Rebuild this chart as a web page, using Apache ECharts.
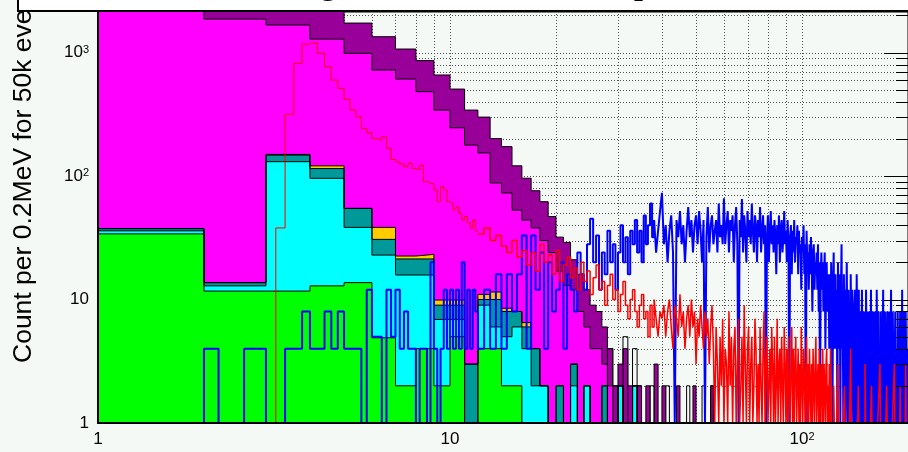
<!DOCTYPE html>
<html>
<head>
<meta charset="utf-8">
<script src="https://cdn.jsdelivr.net/npm/echarts@6/dist/echarts.min.js"></script>
<style>
  html, body { margin: 0; padding: 0; background: #f5f9f5; }
  #c { width: 908px; height: 452px; }
</style>
</head>
<body>
<div id="c"></div>
<script>
// ---- Stacked background components, 1 MeV bins starting at 1 MeV ----
const stackStart = 1;
const stackWidth = 1;
const green   = [34, 11.7, 11.7, 12.9, 13.7, 4.9, 2, 4, 2, 5, 0, 4, 4, 2, 2, 0];
const cyan    = [2, 1.2, 119, 83, 24.7, 18, 13.8, 11.8, 4.9, 1.9, 0, 5, 2, 3, 4, 4, 2, 2, 0, 0, 0, 2, 0, 2, 0, 0, 0, 0, 0, 2, 0, 0, 2];
const teal    = [1.5, 0.8, 17, 19, 16.3, 7.8, 5.5, 5.5, 2.1, 2.1, 3, 1, 4, 3, 2, 2, 2, 0, 0, 2, 0, 1, 0, 0, 0, 0, 2];
const gold    = [0, 0, 2, 6, 0, 7.7, 1.2, 1.9, 0.9, 0.9, 0, 1, 1.5, 0.5, 0, 0.5];
const magenta = [5000, 1853, 1521, 1165, 931, 684, 588, 459, 332, 236, 175, 143, 76.5, 64.5, 45, 37.5, 34, 28, 24, 15, 13, 9, 8, 4, 4, 4, 1, 2];
const purple  = [3000, 1633, 1229, 1014, 747, 621, 457, 379, 316, 260, 164, 146, 113, 100, 68, 52, 38, 32, 23, 15, 16, 9, 8, 6, 5, 4, 3, 2, 2, 1,
                 4, 2, 0, 2, 0, 2, 0, 3, 0, 2, 0, 0, 0, 2, 0, 0, 0, 0, 2, 0, 0, 0, 0, 0, 2, 0];

// ---- Red spectrum: 0.2 MeV bins near the peak, 0.5 MeV bins above 12 MeV ----
const redFineStart = 3.2, redFineWidth = 0.2;
const redFine = [38, 316, 818, 1172, 1200, 986, 767, 598, 513, 418,
                 342, 302, 243, 224, 202, 195, 208, 168, 136, 130,
                 125, 119, 127, 115, 112, 122, 90, 88, 86, 77,
                 62, 82, 77, 62, 60, 53, 56, 50, 44, 47,
                 42, 38, 44, 36];
const redMidStart = 12, redMidWidth = 0.5;
const redMid = [34, 38, 30, 33, 27, 24, 30, 22, 25, 19,
                24, 17, 28, 20, 23, 16, 25, 14, 19, 22,
                15, 18, 12, 20, 14, 17, 11, 15, 19, 12,
                14, 9, 13, 16, 10, 12, 8, 11, 14, 9,
                7, 10, 12, 8, 6, 9, 11, 7, 8, 5,
                9, 6, 10, 7, 5, 8,
                7, 9, 5, 8, 10, 6, 4, 9, 7, 5,
                11, 6, 8, 4, 7, 9, 5, 10, 6, 8,
                3, 7, 5, 9, 6, 4, 8, 5, 7, 3,
                6, 9];
const redHighStart = 56, redHighWidth = 0.5;
const redHigh = [4, 0, 6, 3, 0, 5, 2, 7, 0, 4,
                 3, 0, 8, 2, 5, 0, 4, 6, 0, 3,
                 7, 0, 2, 5, 0, 9, 3, 0, 4, 6,
                 0, 3, 5, 0, 2, 7, 4, 0, 3, 0,
                 6, 2, 0, 4, 8, 0, 3, 5, 0, 2,
                 4, 0, 6, 3, 0, 5, 0, 2, 7, 0,
                 3, 4, 0, 5, 2, 0, 6, 3, 0, 4,
                 0, 5, 2, 0, 3, 6, 0, 4, 0, 3,
                 5, 0, 2, 4, 0, 3, 0, 6, 2, 0,
                 4, 3, 0, 2, 5, 0, 3, 0, 4, 2,
                 0, 3, 0, 4, 2, 0, 3, 5, 0, 2,
                 3, 0, 4, 0, 2, 3, 0, 4, 0, 3,
                 2, 0, 3, 4, 0, 2, 0, 3, 0, 4,
                 0, 1, 0, 0, 2, 0, 0, 1, 0, 0,
                 0, 3, 0, 0, 1, 0, 0, 0, 0, 1,
                 0, 0, 2, 0, 0, 0, 1, 0, 0, 0,
                 0, 0, 0, 4, 0, 0, 1, 0, 0, 0,
                 0, 0, 0, 0, 1, 0, 0, 2, 0, 0,
                 0, 0, 0, 0, 0, 1, 0, 0, 0, 0,
                 3, 0, 0, 0, 0, 0, 1, 0, 0, 0,
                 0, 0, 0, 2, 0, 0, 0, 0, 0, 1,
                 0, 0, 0, 0, 0, 0, 0, 1, 0, 0,
                 0, 3, 0, 0, 0, 0, 0, 0, 1, 0,
                 0, 0, 0, 0, 0, 0, 2, 0, 0, 0,
                 0, 0, 1, 0, 0, 0, 0, 0, 0, 0,
                 0, 0, 0, 0, 3, 0, 0, 0, 0, 1,
                 0, 0, 0, 0, 0, 0, 0, 0, 2, 0,
                 0, 0, 0, 1, 0, 0, 0, 0, 0, 0,
                 0, 0, 3, 0, 0, 0, 0, 0];

// ---- Blue spectrum: 0.2 MeV bins below 12 MeV, 0.5 MeV bins above ----
const blueFineStart = 1, blueFineWidth = 0.2;
const blueFine = [0, 0, 0, 0, 0, 4, 0, 0, 4, 4,
                  0, 0, 4, 4, 8, 4, 4, 8, 4, 8,
                  4, 4, 4, 0, 12, 5, 5, 0, 12, 5,
                  12, 4, 8, 4, 4, 0, 4, 4, 0, 20,
                  4, 0, 4, 12, 4, 12, 4, 12, 4, 20,
                  4, 12, 4, 12, 8];
const blueHighStart = 12, blueHighWidth = 0.5;
const blueHigh = [4, 12, 4, 16, 4, 16, 8, 16, 33, 4,
                  33, 12, 24, 4, 20, 8, 12, 20, 4, 16,
                  12, 8, 24, 16, 12, 28, 45, 20, 33, 12,
                  24, 16, 36, 20, 28, 12, 24, 40, 20, 32,
                  16, 36, 28, 44, 24, 36, 20, 48, 28, 40,
                  60, 32, 44, 24, 36, 52, 73, 28, 40, 20,
                  36, 48, 24, 0, 44, 32, 52, 28, 40, 20,
                  36, 56, 32, 44, 24, 40, 48, 28, 52, 36,
                  20, 44, 0, 32, 56, 24, 40, 48, 28, 36,
                  44, 24, 60, 32, 40, 28,
                  66, 28, 40, 52, 24, 44, 36, 48, 20, 40,
                  56, 28, 0, 44, 32, 65, 24, 48, 36, 20,
                  52, 32, 44, 28, 60, 36, 24, 48, 40, 20,
                  44, 32, 56, 24, 36, 48, 28, 40, 0, 32,
                  48, 20, 36, 52, 28, 40, 24, 44, 32, 16,
                  40, 28, 48, 20, 36, 44, 24, 32, 52, 28,
                  36, 20, 44, 28, 0, 32, 40, 16, 36, 24,
                  44, 20, 32, 28, 40, 16, 36, 24, 28, 12,
                  32, 24, 40, 16, 28, 0, 36, 20, 24, 12,
                  28, 16, 32, 20, 8, 24, 28, 12, 20, 16,
                  24, 12, 28, 8, 20, 0, 16, 24, 12, 20,
                  8, 16, 24, 4, 12, 20, 8, 16, 12, 4,
                  16, 4, 20, 8, 0, 12, 24, 4, 8, 16,
                  4, 12, 0, 20, 8, 4, 16, 0, 12, 28,
                  4, 8, 0, 16, 4, 12, 0, 8, 20, 4,
                  0, 12, 4, 8, 0, 16, 4, 0, 12, 8,
                  4, 0, 8, 12, 0, 4, 16, 4, 0, 8,
                  12, 0, 4, 8, 0, 4, 12, 0, 8, 4,
                  0, 8, 4, 0, 12, 4, 0, 8, 4, 0,
                  4, 8, 0, 4, 12, 0, 4, 0, 8, 4,
                  0, 4, 8, 0, 4, 0, 12, 4, 0, 4,
                  8, 0, 4, 4, 0, 8, 0, 4, 0, 4,
                  12, 0, 4, 0, 8, 4, 0, 4, 0, 8,
                  4, 0, 4, 8, 0, 4, 0, 4, 12, 0,
                  4, 0, 8, 4, 0, 4, 0, 4, 8, 0,
                  4, 0, 4, 0, 8, 4, 0, 4, 0, 4,
                  8, 0, 4, 0, 4, 12, 0, 4, 0, 8,
                  4, 0, 4, 0, 8, 4, 0, 4, 0, 4];

// ---- Black outline histogram at high energy, 1 MeV bins ----
const blackStart = 27, blackWidth = 1;
const black = [0, 4, 2, 0, 5, 0, 4, 2, 0, 0, 2, 0, 0, 0, 2, 0, 0, 0, 0, 0, 2, 0, 0, 0, 0, 2, 0, 0, 2, 0];

// ---- Axes ----
const X_MIN = 1, X_MAX = 200, Y_MIN = 1, Y_MAX = 2130;
const xTickVals = [1, 10, 100];
const xTickText = ['1', '10', '10{s|2}'];
const yTickVals = [1, 10, 100, 1000];
const yTickText = ['1', '10', '10{s|2}', '10{s|3}'];
const xGridVals = [2, 3, 4, 5, 6, 7, 8, 9, 10, 20, 30, 40, 50, 60, 70, 80, 90, 100, 200];
const yGridVals = [2, 3, 4, 5, 6, 7, 8, 9, 10, 20, 30, 40, 50, 60, 70, 80, 90,
                   100, 200, 300, 400, 500, 600, 700, 800, 900, 1000, 2000];
const yMajorVals = [10, 100, 1000];

const COLORS = {
  green: '#00ff00', cyan: '#00ffff', teal: '#009999', gold: '#ffcc00',
  magenta: '#ff00ff', purple: '#990099', red: '#ff0000', blue: '#0000ff'
};

// bin list [lo, hi, value] from one or more (start, width, values) segments
function makeBins(segments) {
  const out = [];
  segments.forEach(([s, w, vals]) => {
    vals.forEach((v, i) => out.push([s + i * w, s + (i + 1) * w, v]));
  });
  return out;
}
// histogram outline; empty bins sit on the bottom of the frame
function stepLine(bins, dropStart = true, dropEnd = true) {
  const pts = dropStart ? [[bins[0][0], Y_MIN]] : [];
  bins.forEach(([lo, hi, v]) => {
    const y = Math.max(v, Y_MIN);
    pts.push([lo, y], [hi, y]);
  });
  if (dropEnd) pts.push([bins[bins.length - 1][1], Y_MIN]);
  return pts;
}

// cumulative sums for the stack (bottom layer first)
const layers = [green, cyan, teal, gold, magenta, purple];
const layerColors = [COLORS.green, COLORS.cyan, COLORS.teal, COLORS.gold, COLORS.magenta, COLORS.purple];
const nStack = Math.max(...layers.map(a => a.length));
const cumulative = [];
let running = new Array(nStack).fill(0);
layers.forEach(arr => {
  running = running.map((r, i) => r + (arr[i] || 0));
  cumulative.push(running.slice());
});

const base = {
  type: 'line', symbol: 'none', showSymbol: false, silent: true,
  animation: false, clip: true, smooth: false
};

const series = [];

// dotted grid
series.push({
  type: 'custom', silent: true, z: 1, clip: true, animation: false,
  data: xGridVals.map(v => [v, Y_MIN]),
  renderItem: (p, api) => {
    const v = api.value(0);
    const a = api.coord([v, Y_MIN]), b = api.coord([v, Y_MAX]);
    const x = Math.round(a[0]) + 0.5;
    return { type: 'line', shape: { x1: x, y1: a[1], x2: x, y2: b[1] },
      style: { stroke: '#555', lineWidth: 1, lineDash: [1, 2] } };
  }
});
series.push({
  type: 'custom', silent: true, z: 1, clip: true, animation: false,
  data: yGridVals.map(v => [X_MIN, v]),
  renderItem: (p, api) => {
    const v = api.value(1);
    const a = api.coord([X_MIN, v]), b = api.coord([X_MAX, v]);
    const y = Math.round(a[1]) + 0.5;
    return { type: 'line', shape: { x1: a[0], y1: y, x2: b[0], y2: y },
      style: { stroke: '#555', lineWidth: 1, lineDash: [1, 2] } };
  }
});

// stack: total first, bottom layer last
for (let k = layers.length - 1; k >= 0; k--) {
  const bins = cumulative[k].map((v, i) => [stackStart + i * stackWidth, stackStart + (i + 1) * stackWidth, v]);
  series.push(Object.assign({}, base, {
    z: 2,
    data: stepLine(bins),
    lineStyle: { color: '#000', width: 1 },
    areaStyle: { color: layerColors[k], opacity: 1, origin: 'start' }
  }));
}

series.push(Object.assign({}, base, {
  z: 3,
  data: stepLine(makeBins([[blackStart, blackWidth, black]])),
  lineStyle: { color: '#000', width: 1 }
}));
series.push(Object.assign({}, base, {
  z: 3,
  data: stepLine(makeBins([[blueFineStart, blueFineWidth, blueFine],
                           [blueHighStart, blueHighWidth, blueHigh]])),
  lineStyle: { color: COLORS.blue, width: 2 }
}));
// red: the peak region with a thin pen, the busy tail with a heavier one
series.push(Object.assign({}, base, {
  z: 3,
  data: stepLine(makeBins([[redFineStart, redFineWidth, redFine]]), true, false),
  lineStyle: { color: COLORS.red, width: 1 }
}));
series.push(Object.assign({}, base, {
  z: 3,
  data: stepLine(makeBins([[redMidStart, redMidWidth, redMid],
                           [redHighStart, redHighWidth, redHigh]]), false, true),
  lineStyle: { color: COLORS.red, width: 1.5 }
}));

// tick marks along the right edge of the frame
series.push({
  type: 'custom', silent: true, z: 4, clip: false, animation: false,
  data: yGridVals.map(v => [X_MAX, v]),
  renderItem: (p, api) => {
    const v = api.value(1);
    const a = api.coord([X_MAX, v]);
    const len = yMajorVals.indexOf(v) >= 0 ? 24 : 12;
    const y = Math.round(a[1]) + 0.5;
    return { type: 'line', shape: { x1: a[0] - len, y1: y, x2: a[0], y2: y },
      style: { stroke: '#000', lineWidth: 1 } };
  }
});

function tickFormatter(vals, texts) {
  return v => {
    for (let i = 0; i < vals.length; i++) {
      if (Math.abs(v - vals[i]) < 1e-6 * vals[i]) return texts[i];
    }
    return '';
  };
}
const labelRich = {
  s: { fontSize: 11, fontFamily: 'Liberation Sans', color: '#000', verticalAlign: 'top' }
};

const option = {
  animation: false,
  backgroundColor: '#f5f9f5',
  grid: {
    left: 98, top: 12, right: 0, bottom: 29,
    containLabel: false, outerBoundsMode: 'none',
    show: true, borderColor: '#000', borderWidth: 1, backgroundColor: 'transparent'
  },
  xAxis: {
    type: 'log', logBase: 10, min: X_MIN, max: X_MAX, z: 10,
    axisLine: { show: true, onZero: false, lineStyle: { color: '#000', width: 2 } },
    axisTick: { show: false }, minorTick: { show: false },
    splitLine: { show: false },
    axisLabel: {
      margin: 8, color: '#000', fontSize: 17, fontFamily: 'Liberation Sans',
      showMinLabel: true, showMaxLabel: false,
      formatter: tickFormatter(xTickVals, xTickText), rich: labelRich
    }
  },
  yAxis: {
    type: 'log', logBase: 10, min: Y_MIN, max: Y_MAX, z: 10,
    axisLine: { show: true, onZero: false, lineStyle: { color: '#000', width: 2 } },
    axisTick: { show: false }, minorTick: { show: false },
    splitLine: { show: false },
    axisLabel: {
      margin: 9, color: '#000', fontSize: 17, fontFamily: 'Liberation Sans',
      showMinLabel: true, showMaxLabel: false,
      formatter: tickFormatter(yTickVals, yTickText), rich: labelRich
    }
  },
  series: series,
  graphic: [
    {
      type: 'text', x: 24, y: 363, rotation: Math.PI / 2, z: 50, silent: true,
      style: { text: 'Count per 0.2MeV for 50k events', fontSize: 26.5, fontFamily: 'Liberation Sans',
               fill: '#000', align: 'left', verticalAlign: 'middle' }
    },
    {
      type: 'rect', z: 100, silent: true,
      shape: { x: 18, y: -20, width: 1100, height: 31 },
      style: { fill: '#ffffff', stroke: '#000', lineWidth: 2 }
    },
    {
      type: 'text', x: 251, y: -14, z: 101, silent: true,
      style: { text: 'Background sources in the spectrum', fontSize: 32, fontWeight: 'bold',
               fontFamily: 'Liberation Serif', fill: '#000', align: 'left', verticalAlign: 'middle' }
    }
  ]
};

const chart = echarts.init(document.getElementById('c'), null, { renderer: 'canvas', width: 908, height: 452 });
chart.setOption(option);
</script>
</body>
</html>
